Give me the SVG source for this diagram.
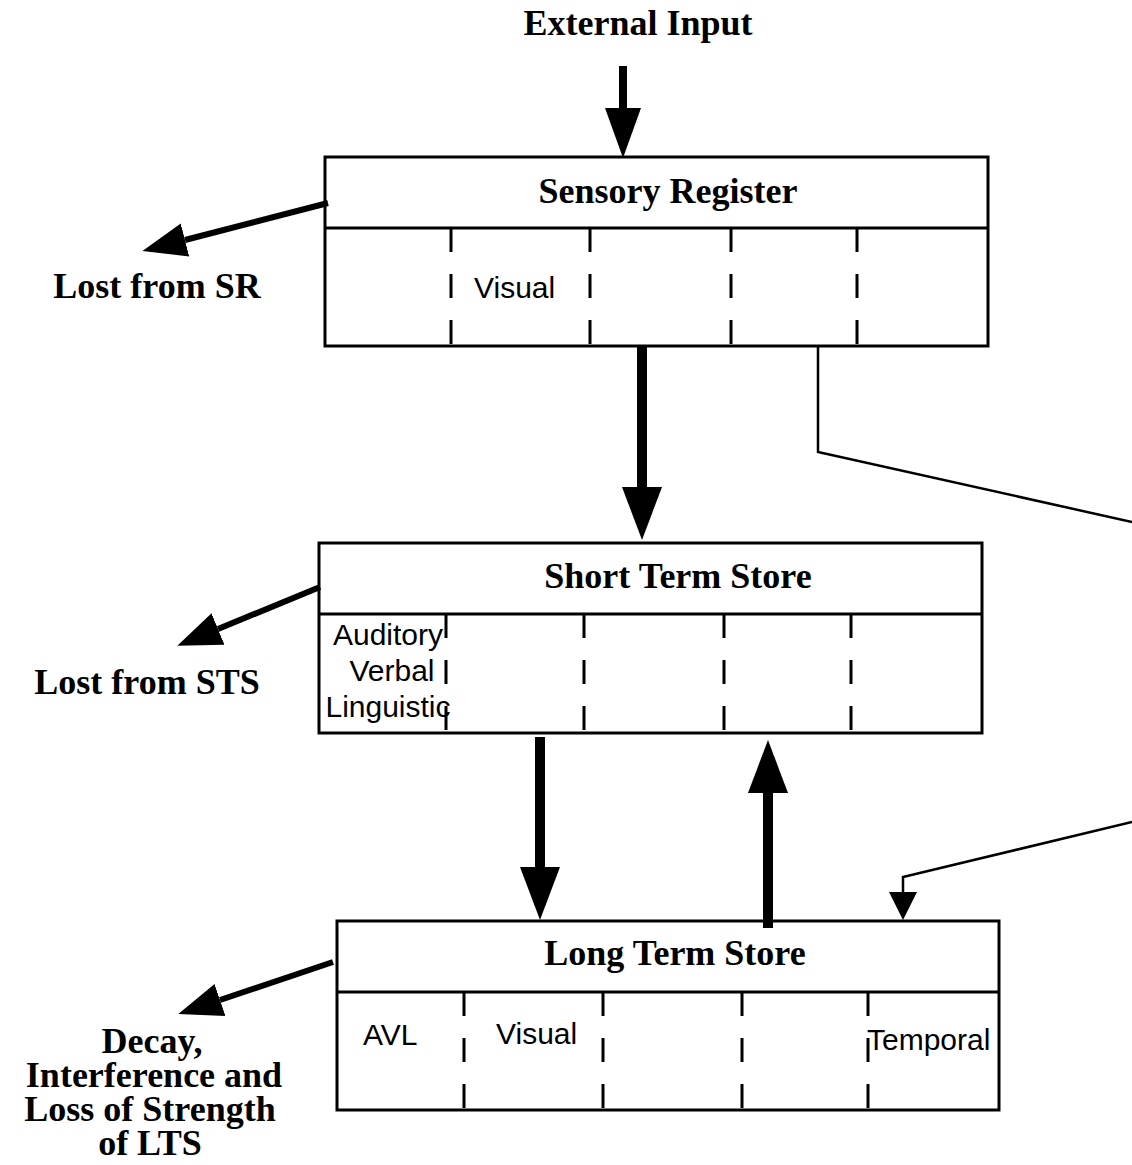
<svg xmlns="http://www.w3.org/2000/svg" width="1132" height="1165" viewBox="0 0 1132 1165">
<style>
.box{fill:#fff;stroke:#000;stroke-width:3}
.div{stroke:#000;stroke-width:3}
.dash{stroke:#000;stroke-width:3;stroke-dasharray:24 22}
.title{font-family:"Liberation Serif","Times New Roman",serif;font-weight:bold;font-size:36px;text-anchor:middle;fill:#000}
.lbl{font-family:"Liberation Sans",Arial,sans-serif;font-size:30px;fill:#000}
.thick{stroke:#000;fill:none}
.thin{stroke:#000;stroke-width:2.5;fill:none}
</style>
<defs>
<marker id="big" markerUnits="userSpaceOnUse" markerWidth="60" markerHeight="50" refX="0" refY="25" orient="auto" viewBox="0 0 60 50"><path d="M0,5 L53,25 L0,45 z" fill="#000"/></marker>
<marker id="top" markerUnits="userSpaceOnUse" markerWidth="60" markerHeight="50" refX="0" refY="25" orient="auto" viewBox="0 0 60 50"><path d="M0,7 L50,25 L0,43 z" fill="#000"/></marker>
<marker id="lost" markerUnits="userSpaceOnUse" markerWidth="50" markerHeight="40" refX="0" refY="20" orient="auto" viewBox="0 0 50 40"><path d="M0,3 L44,20 L0,37 z" fill="#000"/></marker>
<marker id="small" markerUnits="userSpaceOnUse" markerWidth="40" markerHeight="40" refX="0" refY="20" orient="auto" viewBox="0 0 40 40"><path d="M0,6 L28,20 L0,34 z" fill="#000"/></marker>
</defs>

<text class="title" x="638" y="35">External Input</text>

<g id="sensory-register">
<rect class="box" x="325" y="157" width="663" height="189"/>
<line class="div" x1="325" y1="228" x2="988" y2="228"/>
<line class="dash" x1="451" y1="228" x2="451" y2="346"/>
<line class="dash" x1="590" y1="228" x2="590" y2="346"/>
<line class="dash" x1="731" y1="228" x2="731" y2="346"/>
<line class="dash" x1="857" y1="228" x2="857" y2="346"/>
<text class="title" x="668" y="203">Sensory Register</text>
<text class="lbl" x="474" y="298">Visual</text>
</g>

<g id="short-term-store">
<rect class="box" x="319" y="543" width="663" height="190"/>
<line class="div" x1="319" y1="614" x2="982" y2="614"/>
<line class="dash" x1="446" y1="614" x2="446" y2="733"/>
<line class="dash" x1="584" y1="614" x2="584" y2="733"/>
<line class="dash" x1="724" y1="614" x2="724" y2="733"/>
<line class="dash" x1="851" y1="614" x2="851" y2="733"/>
<text class="title" x="678" y="588">Short Term Store</text>
<text class="lbl" x="388" y="645" text-anchor="middle">Auditory</text>
<text class="lbl" x="392" y="681" text-anchor="middle">Verbal</text>
<text class="lbl" x="388" y="717" text-anchor="middle">Linguistic</text>
</g>

<g id="long-term-store">
<rect class="box" x="337" y="921" width="662" height="189"/>
<line class="div" x1="337" y1="992" x2="999" y2="992"/>
<line class="dash" x1="464" y1="992" x2="464" y2="1110"/>
<line class="dash" x1="603" y1="992" x2="603" y2="1110"/>
<line class="dash" x1="742" y1="992" x2="742" y2="1110"/>
<line class="dash" x1="868" y1="992" x2="868" y2="1110"/>
<text class="title" x="675" y="965">Long Term Store</text>
<text class="lbl" x="363" y="1045">AVL</text>
<text class="lbl" x="496" y="1044">Visual</text>
<text class="lbl" x="867" y="1050">Temporal</text>
</g>

<g id="lost-labels">
<text class="title" x="157" y="298">Lost from SR</text>
<text class="title" x="147" y="694">Lost from STS</text>
<text class="title"><tspan x="152" y="1053">Decay,</tspan><tspan x="154" y="1087">Interference and</tspan><tspan x="150" y="1121">Loss of Strength</tspan><tspan x="150" y="1155">of LTS</tspan></text>
</g>

<g id="connectors">
<line class="thick" stroke-width="8" x1="623" y1="66" x2="623" y2="108" marker-end="url(#top)"/>
<line class="thick" stroke-width="10" x1="642" y1="346" x2="642" y2="487" marker-end="url(#big)"/>
<line class="thick" stroke-width="10" x1="540" y1="737" x2="540" y2="867" marker-end="url(#big)"/>
<line class="thick" stroke-width="10" x1="768" y1="928" x2="768" y2="793" marker-end="url(#big)"/>
<line class="thick" stroke-width="6" x1="328" y1="203" x2="185" y2="240" marker-end="url(#lost)"/>
<line class="thick" stroke-width="6" x1="320" y1="587" x2="218" y2="629" marker-end="url(#lost)"/>
<line class="thick" stroke-width="6" x1="333" y1="962" x2="220" y2="1000" marker-end="url(#lost)"/>
<polyline class="thin" points="818,346 818,452 1132,522"/>
<polyline class="thin" points="1132,822 903,877 903,892" marker-end="url(#small)"/>
</g>
</svg>
